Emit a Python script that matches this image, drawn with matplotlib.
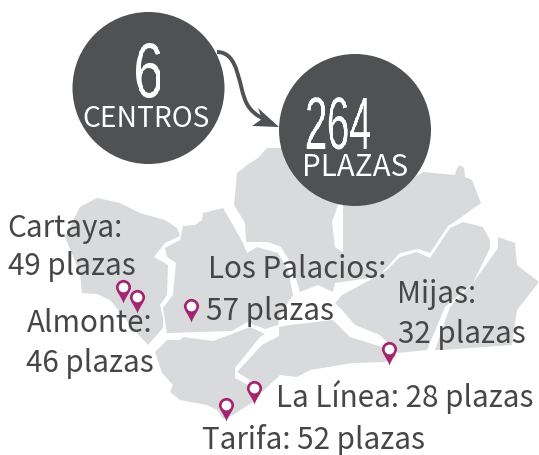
import numpy as np
import matplotlib
matplotlib.use("Agg")
import matplotlib.pyplot as plt
from matplotlib.path import Path
from matplotlib.patches import Circle, PathPatch, Polygon

huelva = [(97, 198), (120, 203), (140, 213), (165, 220), (177, 228), (180, 236), (165, 243), (154, 257),
          (168, 265), (167, 295), (160, 305), (163, 318), (163, 328), (148, 345), (137, 333), (110, 300),
          (97, 294), (82, 293), (80, 273), (65, 237), (80, 207)]
sevilla = [(165, 248), (180, 240), (183, 226), (195, 225), (202, 220), (203, 213), (223, 208), (233, 225),
           (243, 243), (247, 253), (257, 247), (278, 253), (288, 270), (293, 295), (280, 315), (278, 325),
           (265, 329), (247, 322), (232, 331), (167, 333), (163, 308), (173, 295), (176, 263), (167, 257)]
cordoba = [(267, 148), (285, 148), (320, 195), (343, 203), (338, 205), (332, 222), (335, 247), (360, 264),
           (380, 276), (370, 278), (335, 283), (333, 292), (318, 285), (300, 292), (292, 265), (281, 247),
           (268, 242), (246, 242), (245, 223), (234, 205), (237, 173), (247, 165), (258, 158)]
jaen = [(343, 205), (370, 200), (410, 180), (423, 172), (455, 175), (457, 168), (460, 165), (464, 168),
        (465, 177), (472, 180), (481, 203), (453, 223), (448, 226), (430, 253), (418, 249), (400, 253),
        (387, 267), (380, 275), (343, 253)]
granada = [(342, 295), (370, 280), (387, 270), (400, 257), (417, 252), (430, 258), (450, 228), (463, 222),
           (483, 227), (490, 240), (490, 248), (473, 283), (445, 307), (427, 350), (398, 353), (380, 335),
           (355, 325), (342, 310), (335, 303)]
almeria = [(498, 237), (515, 243), (517, 265), (539, 282), (517, 310), (512, 345), (443, 350), (435, 350),
           (450, 307), (473, 283), (498, 248)]
malaga = [(262, 345), (279, 336), (279, 327), (290, 325), (333, 320), (350, 337), (382, 347), (397, 356),
          (385, 362), (353, 363), (310, 370), (297, 377), (280, 375), (262, 392), (253, 382), (237, 372)]
cadiz = [(155, 352), (167, 340), (180, 340), (183, 337), (213, 341), (232, 334), (250, 327), (265, 334),
         (260, 337), (235, 368), (235, 378), (248, 385), (253, 402), (233, 415), (223, 419), (217, 410),
         (207, 405), (180, 400), (170, 392), (173, 385), (162, 373)]
provincias = [huelva, sevilla, cordoba, jaen, granada, almeria, malaga, cadiz]

pin_x = [123, 137, 191, 226, 254, 389]
pin_y = [287, 297, 306, 405, 388, 349]

etiquetas = ["Cartaya:", "49 plazas", "Almonte:", "46 plazas", "Los Palacios:", "57 plazas",
             "Mijas:", "32 plazas", "La Línea: 28 plazas", "Tarifa: 52 plazas"]
etiqueta_x = [7.5, 7.5, 26.5, 26.5, 207.5, 206.5, 397.5, 397.5, 276.5, 202.5]
etiqueta_y = [237, 275, 332, 372, 278, 320, 303, 343, 407, 448.5]

flecha_x = [217, 240, 238, 247, 252, 266]
flecha_y = [52, 52, 88, 104, 114, 120]

GRIS = "#d9dadb"
OSCURO = "#505153"
MAGENTA = "#a4246f"
TEXTO = "#464646"


def estrechar(k):
    # comprime el numero en horizontal, las cifras del original son muy condensadas
    def filtro(img, dpi):
        h, w = img.shape[:2]
        nw = max(int(w * k), 1)
        idx = np.clip((np.arange(nw) / k).astype(int), 0, w - 1)
        return img[:, idx], (w - nw) // 2, 0
    return filtro


plt.rcParams["font.family"] = ["Noto Sans CJK SC", "DejaVu Sans"]

fig = plt.figure(figsize=(5.39, 4.55), dpi=100)
ax = fig.add_axes([0, 0, 1, 1])
ax.set_xlim(0, 539)
ax.set_ylim(455, 0)
ax.axis("off")

for prov in provincias:
    ax.add_patch(Polygon(prov, closed=True, facecolor=GRIS, edgecolor="none", zorder=1))

# circulos y flecha
ax.add_patch(Circle((148.5, 88), 76, facecolor=OSCURO, edgecolor="none", zorder=3))
ax.add_patch(Circle((355, 130), 76, facecolor=OSCURO, edgecolor="none", zorder=3))

codes = [Path.MOVETO, Path.CURVE4, Path.CURVE4, Path.CURVE4, Path.CURVE3, Path.CURVE3]
ax.add_patch(PathPatch(Path(list(zip(flecha_x, flecha_y)), codes), facecolor="none",
                       edgecolor=OSCURO, linewidth=2.8, zorder=2))
ax.add_patch(Polygon([(279, 127), (258, 108), (262, 119), (252, 126)], closed=True,
                     facecolor=OSCURO, edgecolor="none", zorder=2))

ax.text(148, 97, "6", color="white", fontsize=56, family="Liberation Sans",
        ha="center", va="baseline", zorder=4, agg_filter=estrechar(0.68))
ax.text(338, 150, "264", color="white", fontsize=53, family="Liberation Sans",
        ha="center", va="baseline", zorder=4, agg_filter=estrechar(0.55))
ax.text(146.5, 127, "CENTROS", color="white", fontsize=20.3, fontweight="light",
        ha="center", va="baseline", zorder=4)
ax.text(355, 176, "PLAZAS", color="white", fontsize=21.3, fontweight="light",
        ha="center", va="baseline", zorder=4)

# marcadores
pin = Path([(0, 1), (0.55, 1), (1, 0.55), (1, 0), (1, -0.5), (0.3, -1.2), (0, -2.1),
            (-0.3, -1.2), (-1, -0.5), (-1, 0), (-1, 0.55), (-0.55, 1), (0, 1)],
           [Path.MOVETO] + [Path.CURVE4] * 12)
ax.scatter(pin_x, pin_y, marker=pin, s=23 ** 2, color=MAGENTA, linewidths=0, zorder=5)
ax.scatter(pin_x, pin_y, marker="o", s=7 ** 2, color="white", linewidths=0, zorder=6)

for txt, x, y in zip(etiquetas, etiqueta_x, etiqueta_y):
    ax.text(x, y, txt, color=TEXTO, fontsize=21.3, ha="left", va="baseline", zorder=7)

fig.savefig("out.png", dpi=100)
